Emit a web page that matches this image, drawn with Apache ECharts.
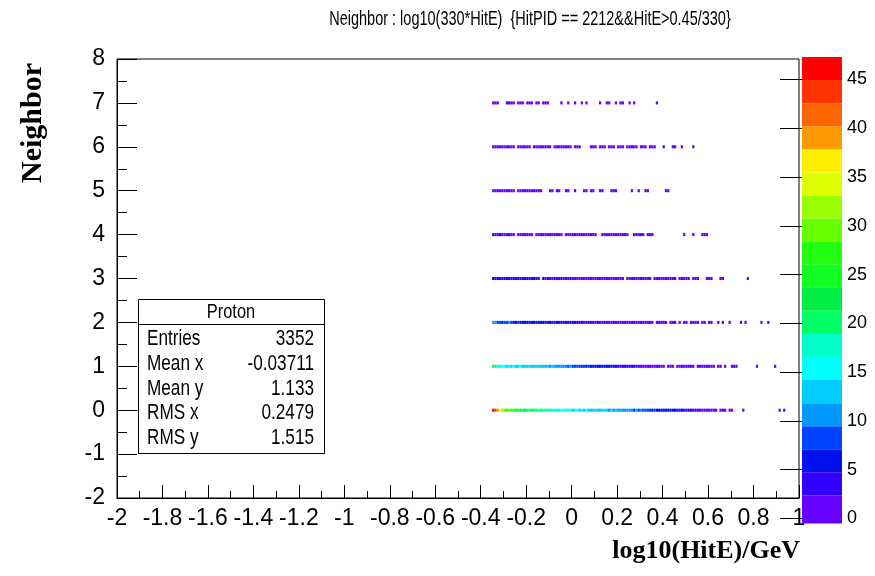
<!DOCTYPE html>
<html><head><meta charset="utf-8">
<script src="https://cdn.jsdelivr.net/npm/echarts@6/dist/echarts.min.js"></script>
<style>html,body{margin:0;padding:0;background:#fff}#c{width:875px;height:576px}</style>
</head><body><div id="c"></div>
<script>
// ---------- texts ----------
const titleText = 'Neighbor : log10(330*HitE)  {HitPID == 2212&&HitE>0.45/330}';
const xAxisTitle = 'log10(HitE)/GeV';
const yAxisTitle = 'Neighbor';
const statsTitle = 'Proton';
const statsLabels = ['Entries', 'Mean x', 'Mean y', 'RMS x', 'RMS y'];
const statsValues = ['3352', '-0.03711', '1.133', '0.2479', '1.515'];

// ---------- axes ----------
const xMin = -2, xMax = 1, xStep = 0.2;
const yMin = -2, yMax = 8, yStep = 1;
const colorTicks = [0, 5, 10, 15, 20, 25, 30, 35, 40, 45];
const zMax = 47.3;

// ---------- histogram bins (x bins of width binW starting at xStart) ----------
const xStart = -0.35;
const binW = 0.01;
const rowY = [0, 1, 2, 3, 4, 5, 6, 7];
const row0 = [46,43,40,36,33, 30,28,29,27,26,28,25,
  23,21,22,20,21,19,20,19,18,20,18,19,17,18,17,18,16,17,
  16,15,16,15,15,14,16,15,14,15,14,15,14,13,
  13,14,12,13,12,13,12,11,12,11,12,11,10,11,10,11,10,10,9,10,9,10,9,9,8,
  8,7,8,7,7,6,7,6,6,5,6,5,5,4,5,4,4,3,4,3,3,2,
  2,1,2,1,1,2,1,1,0,1,1,1,0,1,
  1,0,0,0,0,1,0,0,0,0,0,0,0,0,0,0,0,0,0,0,0,1,0,1];
const row1 = [20,19,18,
  16,15,16,14,15,14,15,13,14,15,13,14,13,12,14,13,12,13,12,12,11,12,11,12,11,10,11,10,11,10,9,10,
  9,9,8,9,8,8,7,8,7,7,6,7,6,6,5,6,5,5,4,5,4,4,4,3,4,3,3,3,2,3,2,
  2,2,1,2,1,2,1,1,2,1, 0, 1,2,1, 0, 1,1,2,1,1,1,1,1, 0, 1,1,1,1,2,1,1,1, 0, 1,1, 0, 1, 0,0, 1,1,1,
  0,0,0,0,0,0,0,0, 1, 0,0,0,0,0,0,0, 1];
const row2 = [11,10,9,
  8,7,8,9,10,8,7,7,8,6,
  6,6,5,6,5,6,5,5,4,5,5,4,5,4,4,5,4,4,
  4,3,4,3,3,4,3,3,3,2,3,3,2,3,2,3,2,2,3,2,2,2,3,2,2,2,1,2,2,1,2,1,2,1,1,2,1,1,
  1,1,0,1,1,1,2,1,0,1,1,1,0,1, 0, 1,1,0,1,1,1,1, 0,1,1,0,1,1,0,
  0,1,0,1,0,0,1,0,0,0,0,1,0,1,0,0,0,0,0,0,1,0,0,1];
const row3 = [5,4,5,4,4,5,4,4,3,4,4,3,4,3,3,4,3,3,4,3,3,0,
  3,2,3,2,2,3,2,2,3,2,2,2,3,2,2,2,2,1,2,2,2,1,2,2,1,2,2,1,2,1,2,1,1,2,1,1,
  0,
  1,1,2,1,1,1,1,2,1,1,1,0,1,1,1,1,2,1,1,1,1,1,0,1,1,1,1,1,0,1,
  1,1,0,0,0,1,1,1,0,0,0,1,1,0,0,0,0,0,0,0,0,0,0,1];
const row4 = [3,2,2,3,2,2,2,3,2,2, 0, 2,2,1,2,2,1,2, 0,
  2,1,2,2,1,2,1,2,1,1,2,1, 0, 1,2,1,1,2,1,1,1,2,1,1,1,1,2, 0,0,
  1,1,1,2,1,1,1,1,1,1,2,1, 0,0, 1,1,1,1,1,0,1,1,1,
  0,0,0,0,0,0,0,0,0,0,0,0,0, 1, 0,0,0, 1, 0,0,0, 1,1,1];
const row5 = [1,1,1,2,1,1,1,1,1,1, 0, 1,1,1,1,2,1,1,1,1,1,1, 0,0,0,
  1,1,0,1,1,0, 0, 1,1, 0,0, 1, 0,0,0, 1,1, 0, 1,1, 0,0, 1,1, 0,0,0, 1,1,1,
  0,0,0,0,0,0, 1, 0,0, 1, 0,0, 1,1, 0,0,0,0,0,0,0, 1,1];
const row6 = [1,1,2,1,1,1,1,1,1,1, 0, 1,1,1,1,1,1, 0, 1,1,1,2,1,1,1,1, 0, 1,1,1,1,1,1,1,1,
  0, 1,1,1, 0,0,0,0, 1,1,1, 0, 1,1,1, 0, 1,1,1, 0, 1,1,1,0,1,1,1,1,1, 0, 1,1,1,0,1,1,1,
  0,0,0, 1, 0,0,0, 1,1, 0,0, 1, 0,0,0,0, 1];
const row7 = [1,1,1,0,0,0,1,1,1,1,0,1,1,1,0,1,1,1,0,1,1,0,1,1,1,
  0,0,0,0,0,1,0,0,1,0,0,1,0,0,1,0,1,0,0,0,0,0,1,0,0,1,1,0,0,1,0,1,1,0,0,1,0,1,
  0,0,0,0,0,0,0,0,0,1];
const rows = [row0, row1, row2, row3, row4, row5, row6, row7];

// ROOT-like 20-level palette, lowest level first
const palette = ['#6600ff','#3300ff','#0011ee','#0044ff','#0099ff','#00ccff','#00ffff','#00ffcc','#00ff66','#00ee44',
                 '#11ff22','#22ff11','#66ff00','#99ff00','#ddff00','#ffee00','#ff9900','#ff6600','#ff3300','#ff0000'];

// ---------- build ----------
const nLevels = palette.length;
const levelStep = zMax / nLevels;
function colorFor(v) {
  return palette[Math.min(nLevels - 1, Math.floor(v / levelStep))];
}
const cells = [];
rows.forEach((r, k) => {
  r.forEach((v, i) => {
    if (v > 0) cells.push([xStart + i * binW, rowY[k], v]);
  });
});
const bands = palette.map((c, i) => [i === 0 ? -0.5 : i * levelStep, (i + 1) * levelStep, i]);
const yHalf = 0.035;

const sans = "'Liberation Sans', Arial, sans-serif";
const serif = "'Liberation Serif', 'DejaVu Serif', serif";
const narrowX = 0.78;

const chart = echarts.init(document.getElementById('c'), null, {renderer: 'canvas'});
chart.setOption({
  animation: false,
  backgroundColor: '#fff',
  grid: [
    {left: 117, right: 76, top: 59, bottom: 78, show: true, borderColor: '#000', borderWidth: 1, backgroundColor: 'transparent'},
    {left: 802, width: 40, top: 57, bottom: 57.5}
  ],
  xAxis: [
    {type: 'value', gridIndex: 0, min: xMin, max: xMax, interval: xStep,
     axisLine: {show: true, onZero: false, lineStyle: {color: '#000', width: 1}},
     axisTick: {show: true, inside: true, length: 13, lineStyle: {color: '#000'}},
     minorTick: {show: true, splitNumber: 2, length: 7, lineStyle: {color: '#000'}},
     splitLine: {show: false}, minorSplitLine: {show: false},
     axisLabel: {margin: 9, fontSize: 23, color: '#000', fontFamily: sans}},
    {type: 'value', gridIndex: 1, min: 0, max: 1, show: false}
  ],
  yAxis: [
    {type: 'value', gridIndex: 0, min: yMin, max: yMax, interval: yStep,
     axisLine: {show: true, onZero: false, lineStyle: {color: '#000', width: 1}},
     axisTick: {show: true, inside: true, length: 20, lineStyle: {color: '#000'}},
     minorTick: {show: true, splitNumber: 2, length: 10, lineStyle: {color: '#000'}},
     splitLine: {show: false}, minorSplitLine: {show: false},
     axisLabel: {margin: 12, fontSize: 23, color: '#000', fontFamily: sans}},
    {type: 'value', gridIndex: 1, min: 0, max: zMax, position: 'right', z: 5,
     axisLine: {show: false},
     axisTick: {show: true, inside: true, length: 22, customValues: colorTicks, lineStyle: {color: '#000'}},
     splitLine: {show: false},
     axisLabel: {margin: 5, fontSize: 18, color: '#000', fontFamily: sans, customValues: colorTicks}}
  ],
  series: [
    {type: 'custom', xAxisIndex: 0, yAxisIndex: 0, z: 1, data: cells,
     renderItem: function (params, api) {
       const x0 = api.value(0), y = api.value(1), v = api.value(2);
       const p0 = api.coord([x0, y + yHalf]);
       const p1 = api.coord([x0 + binW, y - yHalf]);
       return {type: 'rect', shape: {x: p0[0], y: p0[1], width: p1[0] - p0[0], height: p1[1] - p0[1]},
               style: {fill: colorFor(v)}};
     }},
    {type: 'custom', xAxisIndex: 1, yAxisIndex: 1, z: 1, data: bands,
     renderItem: function (params, api) {
       const lo = api.value(0), hi = api.value(1), idx = api.value(2);
       const p0 = api.coord([0, hi]);
       const p1 = api.coord([1, lo]);
       return {type: 'rect', shape: {x: p0[0], y: p0[1], width: p1[0] - p0[0], height: p1[1] - p0[1]},
               style: {fill: palette[idx]}};
     }}
  ],
  graphic: [
    {type: 'text', x: 530, y: 19, scaleX: 0.69, style: {text: titleText, font: "21px " + sans, textAlign: 'center', textVerticalAlign: 'middle', fill: '#000'}},
    {type: 'text', x: 800, y: 551, style: {text: xAxisTitle, font: "bold 26px " + serif, textAlign: 'right', textVerticalAlign: 'middle', fill: '#000'}},
    {type: 'text', x: 33, y: 123, rotation: Math.PI / 2, style: {text: yAxisTitle, font: "bold 30px " + serif, textAlign: 'center', textVerticalAlign: 'middle', fill: '#000'}},
    {type: 'group', z: 10, children: [
      {type: 'rect', shape: {x: 138.5, y: 299.5, width: 186, height: 154}, style: {fill: '#fff', stroke: '#000', lineWidth: 1}},
      {type: 'line', shape: {x1: 138.5, y1: 324.5, x2: 324.5, y2: 324.5}, style: {stroke: '#000', lineWidth: 1}},
      {type: 'text', x: 231, y: 312, scaleX: narrowX, style: {text: statsTitle, font: "21px " + sans, textAlign: 'center', textVerticalAlign: 'middle', fill: '#000'}}
    ].concat(statsLabels.map((t, i) => ({type: 'text', x: 147, y: 339 + i * 24.8, scaleX: narrowX,
        style: {text: t, font: "22px " + sans, textAlign: 'left', textVerticalAlign: 'middle', fill: '#000'}})))
     .concat(statsValues.map((t, i) => ({type: 'text', x: 314, y: 339 + i * 24.8, scaleX: narrowX,
        style: {text: t, font: "22px " + sans, textAlign: 'right', textVerticalAlign: 'middle', fill: '#000'}})))}
  ]
});
</script>
</body></html>
